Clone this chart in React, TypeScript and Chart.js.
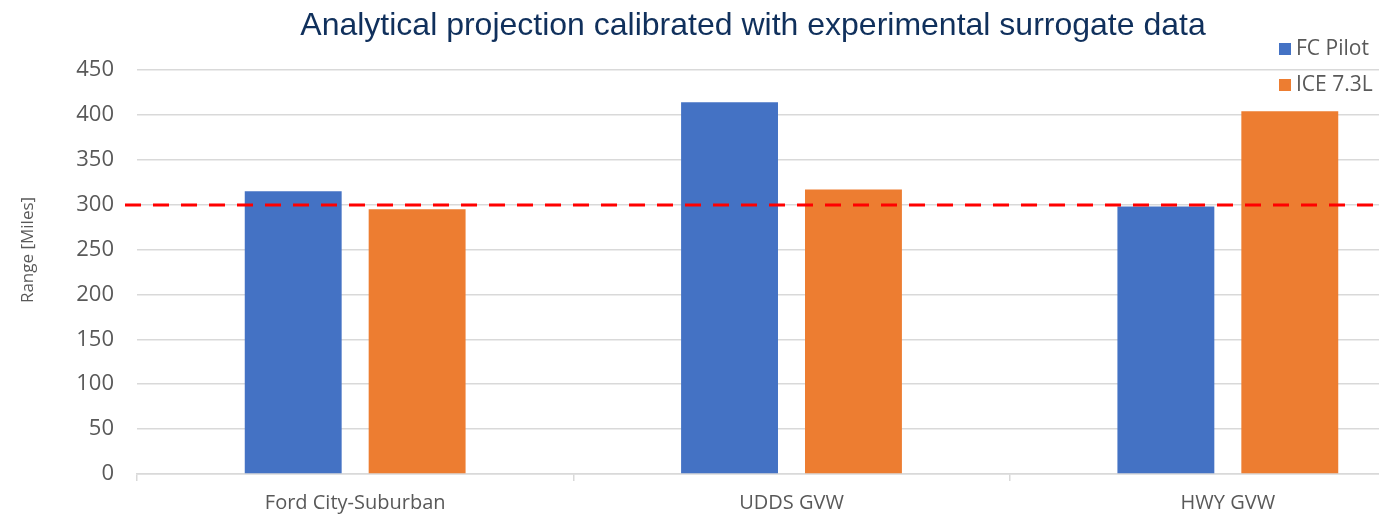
import { useEffect, useRef } from "react";
import { Chart, registerables } from "chart.js";

Chart.register(...registerables);

const categories = ["Ford City-Suburban", "UDDS GVW", "HWY GVW"];
const fcPilot = [315, 414, 298];
const ice73 = [295, 317, 404];
const seriesLabels = ["FC Pilot", "ICE 7.3L"];
const seriesColors = ["#4472c4", "#ed7d31"];
const targetRange = 300;
const titleText = "Analytical projection calibrated with experimental surrogate data";
const yAxisTitle = "Range [Miles]";

const VIEW_W = 1379;
const VIEW_H = 515;
const CANVAS_W = 1470;

const overlayPlugin = {
  id: "overlay",
  afterDatasetsDraw(chart: any) {
    const { ctx, chartArea, scales } = chart;
    const y = Math.round(scales.y.getPixelForValue(targetRange));
    ctx.save();
    ctx.strokeStyle = "#ff0000";
    ctx.lineWidth = 3;
    ctx.setLineDash([16, 12]);
    ctx.beginPath();
    ctx.moveTo(chartArea.left - 12, y);
    ctx.lineTo(chart.width, y);
    ctx.stroke();
    ctx.restore();
  },
  afterDraw(chart: any) {
    const { ctx } = chart;
    ctx.save();
    // title
    ctx.fillStyle = "#10305c";
    ctx.font = "32px 'Liberation Sans', Arial, sans-serif";
    ctx.textAlign = "center";
    ctx.textBaseline = "alphabetic";
    ctx.fillText(titleText, 753, 35);
    // y-axis title
    ctx.save();
    ctx.translate(28, 250);
    ctx.rotate(-Math.PI / 2);
    ctx.fillStyle = "#595959";
    ctx.font = "17px 'Open Sans', sans-serif";
    ctx.textAlign = "center";
    ctx.textBaseline = "middle";
    ctx.fillText(yAxisTitle, 0, 0);
    ctx.restore();
    // legend
    ctx.font = "21px 'Open Sans', sans-serif";
    ctx.textAlign = "left";
    ctx.textBaseline = "alphabetic";
    chart.data.datasets.forEach((ds: any, i: number) => {
      const base = 55 + i * 36;
      ctx.fillStyle = ds.backgroundColor;
      ctx.fillRect(1279, base - 12, 12, 12);
      ctx.fillStyle = "#595959";
      ctx.fillText(ds.label, 1296, base);
    });
    ctx.restore();
  },
};

export default function App() {
  const ref = useRef<HTMLCanvasElement | null>(null);

  useEffect(() => {
    if (!ref.current) return;
    Chart.defaults.font.family = "'Open Sans', sans-serif";
    const chart = new Chart(ref.current, {
      type: "bar",
      data: {
        labels: categories,
        datasets: [
          {
            label: seriesLabels[0],
            data: fcPilot,
            backgroundColor: seriesColors[0],
            categoryPercentage: 0.568,
            barPercentage: 0.782,
          },
          {
            label: seriesLabels[1],
            data: ice73,
            backgroundColor: seriesColors[1],
            categoryPercentage: 0.568,
            barPercentage: 0.782,
          },
        ],
      },
      options: {
        animation: false,
        responsive: false,
        maintainAspectRatio: false,
        layout: { padding: { left: 0, right: CANVAS_W - 1446, top: 70, bottom: 0 } },
        plugins: {
          legend: { display: false },
          title: { display: false },
          tooltip: { enabled: false },
        },
        scales: {
          x: {
            offset: true,
            grid: {
              offset: true,
              drawOnChartArea: false,
              drawTicks: true,
              tickLength: 7,
              color: "#d9d9d9",
              lineWidth: 1.5,
            },
            border: { display: true, color: "#d9d9d9", width: 1.5 },
            ticks: {
              color: "#595959",
              font: { size: 20 },
              padding: 10,
              maxRotation: 0,
            },
            afterFit(scale: any) {
              scale.height = VIEW_H - 474;
            },
          },
          y: {
            min: 0,
            max: 450,
            ticks: {
              stepSize: 50,
              color: "#595959",
              font: { size: 22 },
              padding: 23,
            },
            grid: {
              drawTicks: false,
              color: "#d9d9d9",
              lineWidth: 1.5,
            },
            border: { display: false },
            afterFit(scale: any) {
              scale.width = 137;
            },
          },
        },
      },
      plugins: [overlayPlugin],
    });
    return () => chart.destroy();
  }, []);

  return (
    <div
      style={{
        position: "fixed",
        left: 0,
        top: 0,
        width: VIEW_W,
        height: VIEW_H,
        overflow: "hidden",
        background: "#fff",
      }}
    >
      <canvas ref={ref} width={CANVAS_W} height={VIEW_H} />
    </div>
  );
}
